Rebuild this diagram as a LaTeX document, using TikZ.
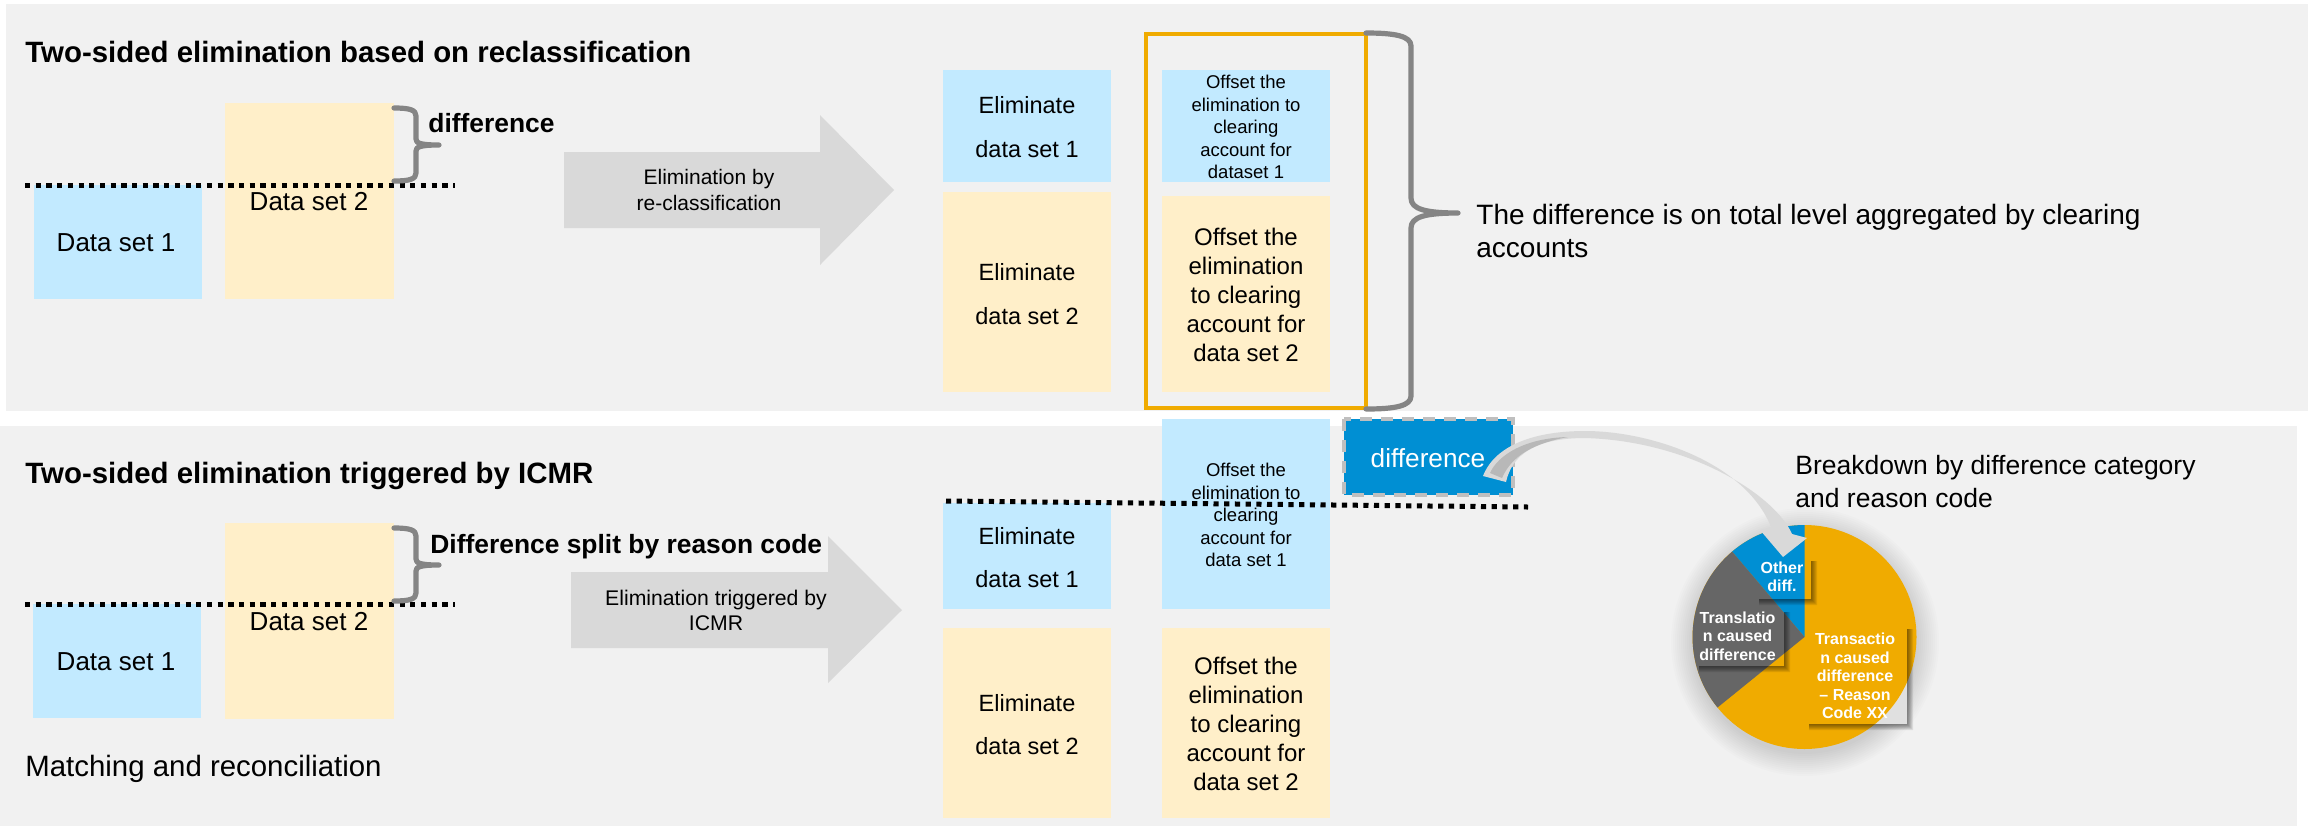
\documentclass[tikz,border=0pt]{standalone}
\usepackage{fontspec}
\setmainfont{Liberation Sans}
\definecolor{panelc}{HTML}{F1F1F1}
\definecolor{bluec}{HTML}{C2EAFF}
\definecolor{yellowc}{HTML}{FFEFC9}
\definecolor{arrowc}{HTML}{D9D9D9}
\definecolor{goldc}{HTML}{F0AB00}
\definecolor{sapblue}{HTML}{008FD3}
\definecolor{darkg}{HTML}{666666}
\definecolor{bracec}{HTML}{858585}
\newcommand{\pxfont}[2]{\fontsize{#1pt}{#2pt}\selectfont}
\tikzset{
  x=0.5pt,y=-0.5pt,
  panel/.style={fill=panelc,draw=none},
  bluebox/.style={fill=bluec,draw=none},
  yellowbox/.style={fill=yellowc,draw=none},
  bigarrow/.style={fill=arrowc,draw=none},
  dotline/.style={line width=2.5pt,black,dash pattern=on 2.6pt off 2.75pt},
  bracel/.style={line width=2.6pt,bracec,line cap=round,line join=round},
  boxlabel/.style={inner sep=0pt,align=center,text=black},
  headline/.style={inner sep=0pt,anchor=base west,font=\bfseries\pxfont{14.7}{17}},
  subhead/.style={inner sep=0pt,anchor=base west,font=\bfseries\pxfont{13.2}{16}},
  pielabel/.style={inner sep=0pt,align=center,text=white,font=\bfseries\pxfont{8}{9.25}},
}
\newcommand{\smallbrace}[1]{%
  \draw[bracel] (394,#1) .. controls (410,#1) and (416,#1+2) .. (416,#1+8) -- (416,#1+31)
     .. controls (416,#1+35) and (420,#1+37) .. (439,#1+37)
     .. controls (420,#1+37) and (416,#1+39) .. (416,#1+43) -- (416,#1+65)
     .. controls (416,#1+71) and (410,#1+73) .. (394,#1+73);}
% soft L-shaped drop shadow: x1 y1 x2 y2
\newcommand{\softshadow}[4]{%
  \foreach \w in {1,2,3,4,5,6}
    \fill[black,opacity=0.085] (#3,#2+4) -- (#3+\w,#2+4) -- (#3+\w,#4+\w) -- (#1+4,#4+\w) -- (#1+4,#4) -- (#3,#4) -- cycle;}
\begin{document}
\begin{tikzpicture}
\useasboundingbox (0,0) rectangle (2312,826);
\fill[white] (0,0) rectangle (2312,826);
% panels
\path[panel] (6,4) rectangle (2308,411);
\path[panel] (0,426) rectangle (2297,826);
% ---------- top panel
\node[headline] (t1) at (25,62) {Two-sided elimination based on reclassification};
\path[bluebox] (34,185) rectangle (202,299);
\path[yellowbox] (225,103) rectangle (394,299);
\node[boxlabel,font=\pxfont{13}{15}] (ds1a) at (116,243) {Data set 1};
\node[boxlabel,font=\pxfont{13}{15}] (ds2a) at (309,202) {Data set 2};
\coordinate (d1s) at (25,185); \coordinate (d1e) at (455,185);
\draw[dotline] (d1s) -- (d1e);
\smallbrace{108}
\node[subhead] (diffa) at (428,132) {difference};
\path[bigarrow] (564,152) -- (820,152) -- (820,115) -- (894,190) -- (820,265) -- (820,228) -- (564,228) -- cycle;
\node[boxlabel,font=\pxfont{10.5}{12.8}] (arr1) at (709,190) {Elimination by\\re-classification};
\path[bluebox] (943,70) rectangle (1111,182);
\path[yellowbox] (943,192) rectangle (1111,392);
\node[boxlabel,font=\pxfont{11.75}{22}] (el1a) at (1027,127) {Eliminate\\data set 1};
\node[boxlabel,font=\pxfont{11.75}{22}] (el2a) at (1027,294) {Eliminate\\data set 2};
\path[bluebox] (1162,70) rectangle (1330,182);
\path[yellowbox] (1162,196) rectangle (1330,392);
\node[boxlabel,font=\pxfont{9.25}{11.25}] (of1a) at (1246,127) {Offset the\\elimination to\\clearing\\account for\\dataset 1};
\node[boxlabel,font=\pxfont{12}{14.4}] (of2a) at (1246,295) {Offset the\\elimination\\to clearing\\account for\\data set 2};
\draw[goldc,line width=1.6pt] (1146,34) rectangle (1366,408);
\draw[bracel] (1366,33) .. controls (1395,33) and (1411,36) .. (1411,46) -- (1411,198)
  .. controls (1411,209) and (1425,213) .. (1458,213)
  .. controls (1425,213) and (1411,217) .. (1411,228) -- (1411,396)
  .. controls (1411,406) and (1395,409) .. (1366,409);
\node[anchor=base west,inner sep=0pt,font=\pxfont{14}{16.5}] (lev) at (1476,224) {The difference is on total level aggregated by clearing};
\node[anchor=base west,inner sep=0pt,font=\pxfont{14}{16.5}] (lev2) at (1476,257) {accounts};
% ---------- bottom panel
\node[headline] (t2) at (25,483) {Two-sided elimination triggered by ICMR};
\path[bluebox] (33,604) rectangle (201,718);
\path[yellowbox] (225,523) rectangle (394,719);
\node[boxlabel,font=\pxfont{13}{15}] (ds1b) at (116,662) {Data set 1};
\node[boxlabel,font=\pxfont{13}{15}] (ds2b) at (309,622) {Data set 2};
\coordinate (d2s) at (25,604); \coordinate (d2e) at (455,604);
\draw[dotline] (d2s) -- (d2e);
\smallbrace{528}
\path[bigarrow] (571,572) -- (828,572) -- (828,536) -- (902,610) -- (828,683) -- (828,648) -- (571,648) -- cycle;
\node[subhead] (diffb) at (430,553) {Difference split by reason code};
\node[anchor=base west,inner sep=0pt,font=\pxfont{14.7}{17}] (match) at (25,776) {Matching and reconciliation};
\node[boxlabel,font=\pxfont{10.6}{12.5}] (arr2) at (716,610) {Elimination triggered by\\ICMR};
\path[bluebox] (943,503) rectangle (1111,609);
\path[yellowbox] (943,628) rectangle (1111,818);
\node[boxlabel,font=\pxfont{11.75}{21.5}] (el1b) at (1027,558) {Eliminate\\data set 1};
\node[boxlabel,font=\pxfont{11.75}{21.5}] (el2b) at (1027,725) {Eliminate\\data set 2};
\path[bluebox] (1162,419) rectangle (1330,609);
\path[yellowbox] (1162,628) rectangle (1330,818);
\node[boxlabel,font=\pxfont{9.25}{11.25}] (of1b) at (1246,515) {Offset the\\elimination to\\clearing\\account for\\data set 1};
\node[boxlabel,font=\pxfont{12}{14.4}] (of2b) at (1246,724) {Offset the\\elimination\\to clearing\\account for\\data set 2};
\coordinate (d3s) at (946,501); \coordinate (d3e) at (1528,507);
\draw[dotline] (d3s) -- (d3e);
% difference box
\path[fill=sapblue] (1344,419) rectangle (1513,495);
\draw[black!25,line width=2pt,dash pattern=on 6pt off 4.5pt] (1344,419) rectangle (1513,495);
\node[inner sep=0pt,text=white,font=\pxfont{13.1}{15}] (diffc) at (1428,458) {difference};
% pie shadow
\foreach \r in {134,132,130,128,126,124,122,120,118,116,114,112}
  \fill[black,opacity=0.012] (1805,642) circle[radius=\r];
% light corner of the label box outside the pie
\fill[black!12] (1805,625) rectangle (1907,724);
\begin{scope}[shift={(1804.5,637)}]
  \fill[goldc] (0,0) circle[radius=112];
  \fill[sapblue] (0,0) -- (0,-112) arc[start angle=-90,end angle=-130.3,radius=112] -- cycle;
  \fill[darkg] (0,0) -- (-72.4,-85.4) arc[start angle=-130.3,end angle=-219,radius=112] -- cycle;
\end{scope}
% label shadows
\softshadow{1755}{557}{1811}{599}
\softshadow{1695}{608}{1784}{666}
\softshadow{1805}{625}{1907}{724}
\node[pielabel] (p1) at (1782,577) {Other\\diff.};
\node[pielabel] (p2) at (1737.5,636) {Translatio\\n caused\\difference};
\node[pielabel] (p3) at (1855,676) {Transactio\\n caused\\difference\\– Reason\\Code XX};
% curved arrow
\coordinate (tailL) at (1483,476);
\coordinate (tailR) at (1506,482);
\coordinate (hL) at (1760,530);
\coordinate (hT) at (1783,557);
\coordinate (hR) at (1807,538);
\fill[arrowc] (tailL) .. controls (1495,445) and (1535,431) .. (1585,431)
  .. controls (1650,431) and (1745,462) .. (1771,527) -- (hL) -- (hT) -- (hR) -- (1792,534)
  .. controls (1775,495) and (1690,441) .. (1585,438)
  .. controls (1535,438) and (1512,455) .. (tailR) -- cycle;
\fill[black!28] (1490,473) .. controls (1498,455) and (1525,438) .. (1568,437)
  .. controls (1535,443) and (1512,455) .. (1502,478) -- cycle;
\node[anchor=base west,inner sep=0pt,font=\pxfont{13.25}{16}] (bd1) at (1795,474) {Breakdown by difference category};
\node[anchor=base west,inner sep=0pt,font=\pxfont{13.25}{16}] (bd2) at (1795,507) {and reason code};
\end{tikzpicture}
\end{document}
